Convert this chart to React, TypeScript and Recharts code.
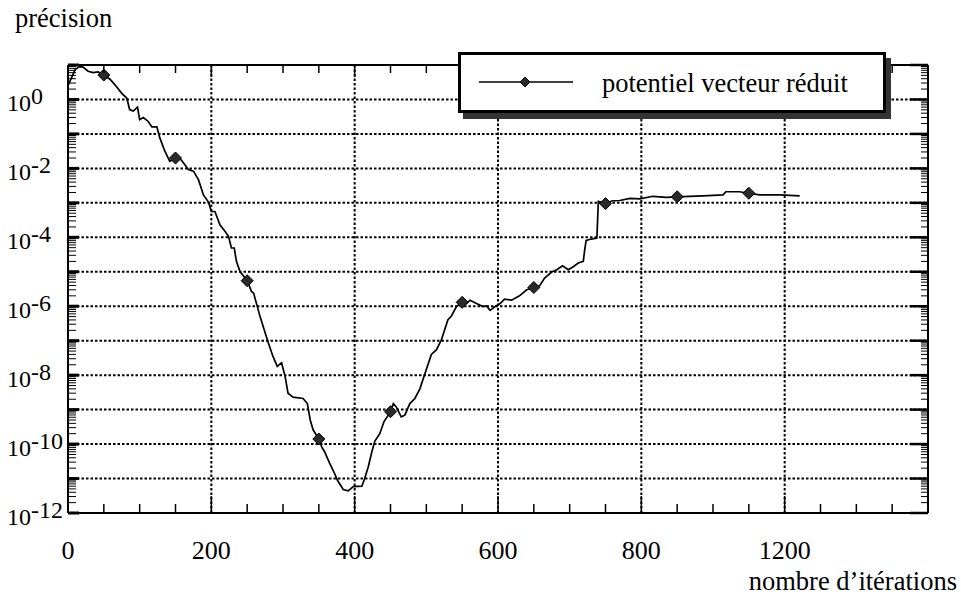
import React from 'react';
import { ComposedChart, Line, Scatter, XAxis, YAxis, ReferenceLine, Label } from 'recharts';

// ---- data ----
const iterations = [
  0, 5, 10, 16, 21, 28, 35, 42, 50, 59, 68, 75, 82, 86, 91, 97, 100, 105, 112, 117, 124, 128, 135, 142, 150,
  154, 161, 168, 175, 182, 189, 196, 200, 205, 212, 219, 224, 228, 232, 235, 240, 250, 256, 259, 268, 279,
  286, 292, 298, 303, 307, 314, 328, 334, 338, 342, 350, 354, 358, 365, 372, 376, 384, 391, 398, 410, 414,
  419, 424, 428, 435, 441, 450, 454, 458, 465, 470, 477, 484, 491, 498, 507, 514, 521, 530, 535, 542, 550,
  556, 561, 570, 579, 584, 589, 596, 603, 609, 619, 630, 640, 650, 658, 665, 675, 682, 690, 698, 705, 712,
  719, 721, 723, 730, 738, 740, 750, 760, 770, 784, 798, 816, 835, 850, 867, 886, 914, 918, 937, 950, 965,
  993, 1021,
];
const precisionValues = [
  2.5, 4.3, 7.4, 9.0, 8.7, 6.6, 6.0, 6.3, 5.1, 3.8, 2.3, 1.5, 1.1, 0.51, 0.46, 0.6, 0.26, 0.3, 0.23, 0.16, 0.16,
  0.078, 0.032, 0.016, 0.02, 0.022, 0.0145, 0.0093, 0.0083, 0.0047, 0.0017, 0.00105, 5.6e-4, 5.6e-4, 2.3e-4,
  1.5e-4, 1.07e-4, 4.9e-5, 4.9e-5, 2.0e-5, 1.02e-5, 5.5e-6, 2.7e-6, 2.4e-6, 5.0e-7, 9.3e-8, 3.5e-8, 1.8e-8,
  2.3e-8, 9.1e-9, 3.0e-9, 2.3e-9, 2.1e-9, 1.5e-9, 5.0e-10, 2.6e-10, 1.4e-10, 8.3e-11, 6.0e-11, 2.8e-11,
  1.4e-11, 8.9e-12, 4.8e-12, 4.4e-12, 5.8e-12, 6.0e-12, 1.0e-11, 2.2e-11, 6.0e-11, 1.2e-10, 2.0e-10, 4.5e-10,
  8.7e-10, 1.5e-9, 1.2e-9, 6.2e-10, 6.9e-10, 1.5e-9, 2.1e-9, 4.0e-9, 1.1e-8, 4.0e-8, 5.4e-8, 1.05e-7, 4.0e-7,
  5.2e-7, 9.8e-7, 1.3e-6, 1.2e-6, 1.5e-6, 1.2e-6, 9.8e-7, 1.02e-6, 7.6e-7, 9.8e-7, 1.2e-6, 1.6e-6, 1.5e-6,
  2.0e-6, 3.0e-6, 3.5e-6, 3.9e-6, 6.6e-6, 9.8e-6, 1.15e-5, 1.5e-5, 1.15e-5, 1.4e-5, 1.8e-5, 2.0e-5, 4.4e-5,
  8.1e-5, 8.9e-5, 9.5e-5, 1.1e-3, 9.5e-4, 1.15e-3, 1.17e-3, 1.35e-3, 1.3e-3, 1.55e-3, 1.45e-3, 1.5e-3,
  1.55e-3, 1.6e-3, 1.7e-3, 2.1e-3, 2.1e-3, 1.9e-3, 1.7e-3, 1.7e-3, 1.6e-3,
];
const markerIterations = [50, 150, 250, 350, 450, 550, 650, 750, 850, 950];
const markerValues = [5.1, 0.02, 5.5e-6, 1.4e-10, 8.7e-10, 1.3e-6, 3.5e-6, 9.5e-4, 1.5e-3, 1.9e-3];

const xTicks = [
  0, 50, 100, 150, 200, 250, 300, 350, 400, 450, 500, 550, 600, 650, 700, 750, 800, 850, 900, 950, 1000,
  1050, 1100, 1150, 1200,
];
const xLabelValues = [0, 200, 400, 600, 800, 1000];
const xLabelTexts = ['0', '200', '400', '600', '800', '1200'];
const xGridValues = [200, 400, 600, 800, 1000];

const yDecades = [1e-12, 1e-11, 1e-10, 1e-9, 1e-8, 1e-7, 1e-6, 1e-5, 1e-4, 1e-3, 1e-2, 1e-1, 1, 10];
const yGridValues = [1e-11, 1e-10, 1e-9, 1e-8, 1e-7, 1e-6, 1e-5, 1e-4, 1e-3, 1e-2, 1e-1, 1];
const yLabelValues = [1, 1e-2, 1e-4, 1e-6, 1e-8, 1e-10, 1e-12];
const yLabelExponents = ['0', '-2', '-4', '-6', '-8', '-10', '-12'];
const minorMultipliers = [2, 3, 4, 5, 6, 7, 8, 9];

const series = iterations.map((it, i) => ({ iter: it, value: precisionValues[i] }));
const markers = markerIterations.map((it, i) => ({ iter: it, value: markerValues[i] }));

const yMinorTicks: number[] = [];
yDecades.slice(0, -1).forEach((d) => minorMultipliers.forEach((m) => yMinorTicks.push(d * m)));
const yAllTicks = [...yDecades, ...yMinorTicks].sort((a, b) => a - b);

const isDecade = (v: number) => yDecades.some((d) => Math.abs(v / d - 1) < 1e-6);

const FONT = '"Liberation Serif", "Times New Roman", serif';

const BottomTick = (props: any) => {
  const { x, y, payload } = props;
  const v = payload.value;
  const major = v % 200 === 0;
  const idx = xLabelValues.indexOf(v);
  return (
    <g>
      <line x1={x} x2={x} y1={y} y2={y - (major ? 17 : 9)} stroke="#000" strokeWidth={1.5} />
      {idx >= 0 && (
        <text x={x} y={y + 46} textAnchor="middle" fontFamily={FONT} fontSize={26} fill="#000">
          {xLabelTexts[idx]}
        </text>
      )}
    </g>
  );
};

const TopTick = (props: any) => {
  const { x, y, payload } = props;
  const major = payload.value % 200 === 0;
  return <line x1={x} x2={x} y1={y} y2={y + (major ? 12 : 8)} stroke="#000" strokeWidth={1.5} />;
};

const LeftTick = (props: any) => {
  const { x, y, payload } = props;
  const v = payload.value;
  const dec = isDecade(v);
  const idx = yLabelValues.findIndex((d) => Math.abs(v / d - 1) < 1e-6);
  return (
    <g>
      <line x1={x} x2={x + (dec ? 11 : 8)} y1={y} y2={y} stroke="#000" strokeWidth={dec ? 3 : 1} />
      {idx >= 0 && (
        <text x={x - 61} y={y + 12} fontFamily={FONT} fontSize={24} fill="#000">
          <tspan>10</tspan>
          <tspan dy={-7}>{yLabelExponents[idx]}</tspan>
        </text>
      )}
    </g>
  );
};

const RightTick = (props: any) => {
  const { x, y, payload } = props;
  const dec = isDecade(payload.value);
  return <line x1={x} x2={x - (dec ? 18 : 7)} y1={y} y2={y} stroke="#000" strokeWidth={dec ? 2.5 : 1} />;
};

const Diamond = (props: any) => {
  const { cx, cy } = props;
  if (cx == null || cy == null) return null;
  const r = 6;
  return (
    <polygon
      points={`${cx},${cy - r} ${cx + r},${cy} ${cx},${cy + r} ${cx - r},${cy}`}
      fill="#2a2a2a"
      stroke="#000"
      strokeWidth={1}
    />
  );
};

export default function App() {
  return (
    <div style={{ position: 'absolute', left: 0, top: 0, width: 961, height: 599, background: '#fff' }}>
      <ComposedChart width={961} height={599} data={series} margin={{ top: 0, right: 0, bottom: 0, left: 0 }}>
        <XAxis
          xAxisId="bottom"
          dataKey="iter"
          type="number"
          domain={[0, 1200]}
          ticks={xTicks}
          interval={0}
          orientation="bottom"
          height={86}
          tickSize={0}
          tickMargin={0}
          tickLine={false}
          tick={<BottomTick />}
          axisLine={{ stroke: '#000', strokeWidth: 2 }}
          allowDataOverflow
        >
          <Label
            content={(p: any) => {
              const vb = p.viewBox || { x: 68, y: 513, width: 860 };
              return (
                <text x={vb.x + vb.width + 29} y={vb.y + 77} textAnchor="end" fontFamily={FONT} fontSize={26.5} fill="#000">
                  nombre d’itérations
                </text>
              );
            }}
          />
        </XAxis>
        <XAxis
          xAxisId="top"
          dataKey="iter"
          type="number"
          domain={[0, 1200]}
          ticks={xTicks}
          interval={0}
          orientation="top"
          height={65}
          tickSize={0}
          tickMargin={0}
          tickLine={false}
          tick={<TopTick />}
          axisLine={{ stroke: '#000', strokeWidth: 2 }}
          allowDataOverflow
        />
        <YAxis
          yAxisId="left"
          dataKey="value"
          type="number"
          scale="log"
          domain={[1e-12, 10]}
          ticks={yAllTicks}
          interval={0}
          orientation="left"
          width={68}
          tickSize={0}
          tickMargin={0}
          tickLine={false}
          tick={<LeftTick />}
          axisLine={{ stroke: '#000', strokeWidth: 2 }}
          allowDataOverflow
        >
          <Label
            content={(p: any) => {
              const vb = p.viewBox || { x: 0, y: 65 };
              return (
                <text x={vb.x + 15} y={vb.y - 38} fontFamily={FONT} fontSize={26.5} fill="#000">
                  précision
                </text>
              );
            }}
          />
        </YAxis>
        <YAxis
          yAxisId="right"
          type="number"
          scale="log"
          domain={[1e-12, 10]}
          ticks={yAllTicks}
          interval={0}
          orientation="right"
          width={33}
          tickSize={0}
          tickMargin={0}
          tickLine={false}
          tick={<RightTick />}
          axisLine={{ stroke: '#000', strokeWidth: 2 }}
          allowDataOverflow
        />
        {yGridValues.map((v) => (
          <ReferenceLine
            key={'h' + v}
            y={v}
            xAxisId="bottom"
            yAxisId="left"
            stroke="#000"
            strokeWidth={2}
            strokeDasharray="2.5 2"
          />
        ))}
        {xGridValues.map((v) => (
          <ReferenceLine
            key={'v' + v}
            x={v}
            xAxisId="bottom"
            yAxisId="left"
            stroke="#000"
            strokeWidth={2}
            strokeDasharray="2.5 2"
          />
        ))}
        <Line
          xAxisId="bottom"
          yAxisId="left"
          type="linear"
          dataKey="value"
          stroke="#000"
          strokeWidth={1.7}
          dot={false}
          activeDot={false}
          isAnimationActive={false}
        />
        <Scatter
          xAxisId="bottom"
          yAxisId="left"
          data={markers}
          dataKey="value"
          shape={<Diamond />}
          isAnimationActive={false}
        />
      </ComposedChart>
      <div
        style={{
          position: 'absolute',
          left: 458,
          top: 52,
          width: 422,
          height: 55,
          border: '3px solid #000',
          background: '#fff',
          boxShadow: '5px 6px 0 #333',
          fontFamily: FONT,
        }}
      >
        <svg width={422} height={55} style={{ position: 'absolute', left: 0, top: 0 }}>
          <line x1={18} x2={112} y1={27} y2={27} stroke="#000" strokeWidth={1.3} />
          <polygon points="64,22 69,27 64,32 59,27" fill="#2a2a2a" stroke="#000" strokeWidth={1} />
          <text x={141} y={37} fontFamily={FONT} fontSize={26.5} fill="#000">
            potentiel vecteur réduit
          </text>
        </svg>
      </div>
    </div>
  );
}
